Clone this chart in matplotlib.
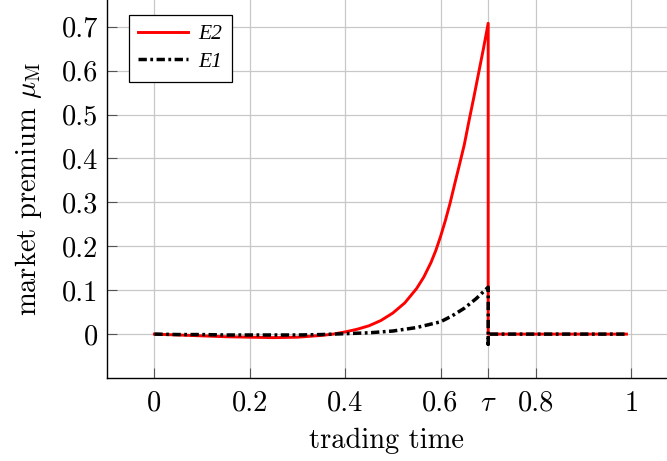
import matplotlib
matplotlib.use("Agg")
from matplotlib import pyplot as plt

plt.rcParams['font.family'] = 'serif'
plt.rcParams['font.serif'] = ['cmr10']
plt.rcParams['mathtext.fontset'] = 'cm'
plt.rcParams['axes.formatter.use_mathtext'] = True

# data
x_e2 = [0, 0.05, 0.1, 0.15, 0.2, 0.25, 0.3, 0.35, 0.375, 0.4, 0.425, 0.45,
        0.475, 0.5, 0.525, 0.55, 0.565, 0.58, 0.59, 0.6, 0.61, 0.62, 0.63,
        0.64, 0.65, 0.66, 0.67, 0.68, 0.69, 0.7, 0.7, 0.99]
y_e2 = [0, -0.002, -0.004, -0.006, -0.007, -0.008, -0.007, -0.003, 0.000,
        0.005, 0.011, 0.019, 0.031, 0.048, 0.071, 0.104, 0.130, 0.163, 0.190,
        0.222, 0.258, 0.298, 0.343, 0.387, 0.432, 0.487, 0.540, 0.595, 0.650,
        0.708, 0.0, 0.0]

x_e1 = [0, 0.05, 0.1, 0.15, 0.2, 0.25, 0.3, 0.35, 0.4, 0.45, 0.5, 0.55, 0.6,
        0.625, 0.65, 0.675, 0.7, 0.7, 0.7, 0.99]
y_e1 = [0, -0.001, -0.001, -0.002, -0.002, -0.002, -0.002, -0.001, 0.001,
        0.003, 0.007, 0.015, 0.028, 0.042, 0.059, 0.081, 0.107, -0.023, 0.0,
        0.0]

xticks = [0, 0.2, 0.4, 0.6, 0.7, 0.8, 1.0]
xticklabels = ['0', '0.2', '0.4', '0.6', r'$\tau$', '0.8', '1']
yticks = [0, 0.1, 0.2, 0.3, 0.4, 0.5, 0.6, 0.7]
yticklabels = ['0', '0.1', '0.2', '0.3', '0.4', '0.5', '0.6', '0.7']

fig = plt.figure(figsize=(6.67, 4.61), dpi=100)
ax = fig.add_axes([0.160, 0.180, 0.840, 0.820])

ax.plot(x_e2, y_e2, color='red', lw=2.1, label='E2', zorder=3)
ax.plot(x_e1, y_e1, color='black', lw=2.5, dashes=(2.4, 1.0, 0.8, 1.0),
        label='E1', zorder=4)

ax.set_xlim(-0.1, 1.075)
ax.set_ylim(-0.1, 0.761)
ax.set_xticks(xticks)
ax.set_xticklabels(xticklabels)
ax.set_yticks(yticks)
ax.set_yticklabels(yticklabels)
ax.grid(True, color='#c8c8c8', lw=0.9)
ax.set_axisbelow(True)
ax.tick_params(direction='in', length=7, color='#555555', labelsize=20.5)
ax.tick_params(axis='x', pad=9)
ax.tick_params(axis='y', pad=6)

for s in ['top', 'right']:
    ax.spines[s].set_visible(False)
for s in ['left', 'bottom']:
    ax.spines[s].set_linewidth(1.0)

ax.set_xlabel('trading time', fontsize=20.5, labelpad=8)
ax.set_ylabel(r'market premium $\mu_{\mathrm{M}}$', fontsize=20.5, labelpad=13)

leg = ax.legend(loc='upper left', bbox_to_anchor=(0.02, 0.99),
                prop={'family': 'Liberation Serif', 'style': 'italic', 'size': 15.5},
                fancybox=False, framealpha=1, edgecolor='black',
                handlelength=2.3, handletextpad=0.5, borderpad=0.45,
                labelspacing=0.35)
leg.get_frame().set_linewidth(0.9)

fig.savefig('out.png', dpi=100)
